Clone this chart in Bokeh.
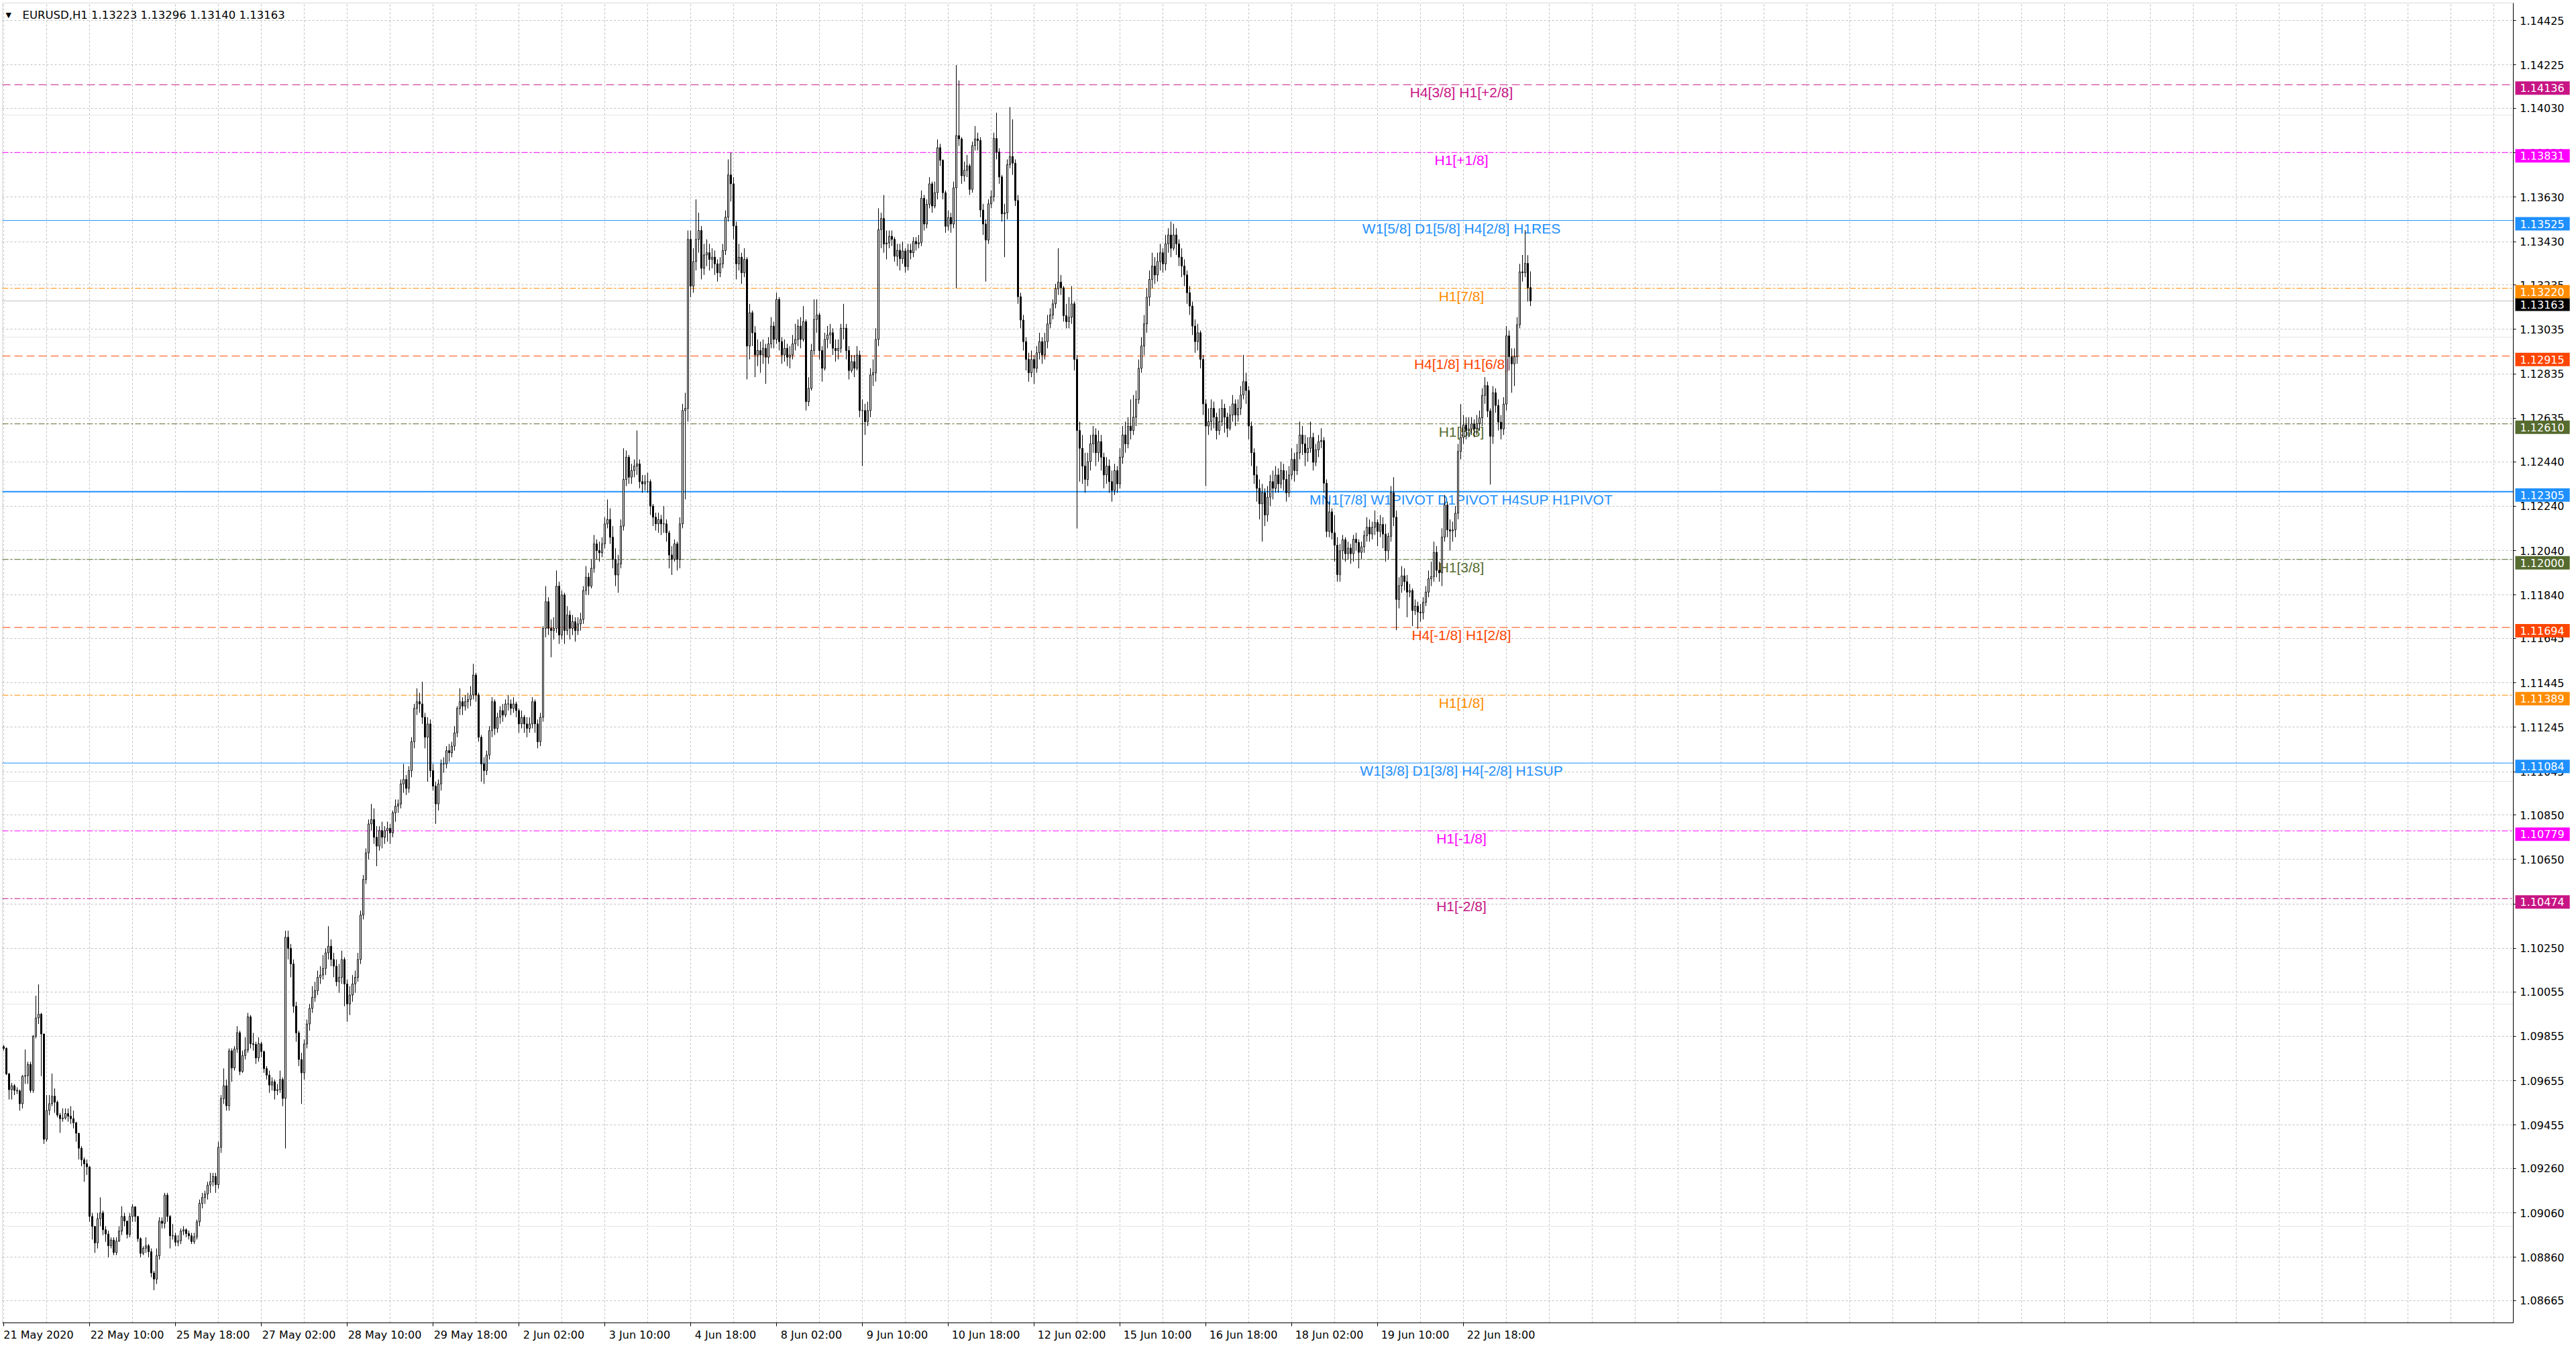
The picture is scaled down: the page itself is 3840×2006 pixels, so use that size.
import numpy as np
from bokeh.plotting import figure
from bokeh.models import (FixedTicker, Span, Label, Range1d, PrintfTickFormatter,
                          LinearAxis, Grid, BoxAnnotation)
from bokeh.embed import file_html
from bokeh.resources import INLINE

# ---------------- data ----------------
symbol = "EURUSD,H1"
first_open = 1.09808

close = [
1.09800,1.09685,1.09614,1.09632,1.09611,1.09609,1.09551,1.09675,1.09677,1.09728,
1.09611,1.09855,1.09937,1.09954,1.09865,1.09391,1.09521,1.09551,1.09585,1.09558,
1.09500,1.09484,1.09487,1.09507,1.09495,1.09484,1.09465,1.09418,1.09351,1.09299,
1.09281,1.09267,1.09044,1.08999,1.08925,1.09034,1.09060,1.08984,1.08965,1.08912,
1.08938,1.08882,1.08933,1.08978,1.09044,1.09023,1.08963,1.09044,1.09087,1.09044,
1.08944,1.08878,1.08901,1.08912,1.08885,1.08790,1.08762,1.08867,1.09023,1.09013,
1.09140,1.09044,1.08957,1.08957,1.08928,1.08935,1.08978,1.08984,1.08967,1.08957,
1.08931,1.08952,1.09020,1.09103,1.09129,1.09145,1.09185,1.09200,1.09224,1.09187,
1.09355,1.09574,1.09632,1.09542,1.09789,1.09712,1.09797,1.09871,1.09696,1.09768,
1.09793,1.09942,1.09821,1.09818,1.09757,1.09821,1.09786,1.09709,1.09680,1.09635,
1.09650,1.09610,1.09615,1.09660,1.09575,1.10300,1.10250,1.10180,1.09990,1.09870,
1.09750,1.09690,1.09820,1.09910,1.09980,1.10030,1.10060,1.10120,1.10130,1.10160,
1.10230,1.10260,1.10200,1.10170,1.10100,1.10120,1.10200,1.10090,1.10000,1.10040,
1.10090,1.10120,1.10200,1.10400,1.10560,1.10680,1.10810,1.10830,1.10750,1.10710,
1.10780,1.10750,1.10780,1.10790,1.10770,1.10860,1.10890,1.10900,1.10990,1.11010,
1.10970,1.11050,1.11180,1.11330,1.11360,1.11350,1.11290,1.11200,1.11260,1.11050,
1.10980,1.10900,1.10990,1.11080,1.11080,1.11140,1.11130,1.11160,1.11220,1.11330,
1.11360,1.11340,1.11360,1.11370,1.11390,1.11480,1.11390,1.11200,1.11080,1.11050,
1.11120,1.11230,1.11360,1.11240,1.11290,1.11320,1.11300,1.11350,1.11350,1.11330,
1.11350,1.11320,1.11260,1.11290,1.11260,1.11240,1.11260,1.11360,1.11260,1.11180,
1.11290,1.11690,1.11810,1.11690,1.11680,1.11690,1.11880,1.11660,1.11840,1.11680,
1.11750,1.11690,1.11720,1.11680,1.11710,1.11730,1.11860,1.11920,1.11880,1.11960,
1.12070,1.12040,1.12030,1.12070,1.12160,1.12180,1.12100,1.12000,1.11930,1.11980,
1.12150,1.12360,1.12460,1.12370,1.12400,1.12420,1.12430,1.12350,1.12340,1.12350,
1.12350,1.12240,1.12190,1.12160,1.12180,1.12160,1.12160,1.12120,1.12020,1.12000,
1.12070,1.12000,1.12160,1.12670,1.12680,1.13440,1.13230,1.13340,1.13440,1.13480,
1.13310,1.13370,1.13380,1.13350,1.13360,1.13330,1.13290,1.13330,1.13390,1.13540,
1.13730,1.13690,1.13500,1.13330,1.13360,1.13290,1.13350,1.12960,1.13110,1.13020,
1.12920,1.12940,1.12920,1.12950,1.12910,1.12970,1.13050,1.12990,1.13170,1.12980,
1.12920,1.12950,1.12910,1.12920,1.12970,1.12990,1.13050,1.12990,1.13070,1.12710,
1.12770,1.12940,1.13080,1.13100,1.12940,1.12860,1.12990,1.13010,1.13020,1.12950,
1.12940,1.12950,1.13040,1.13040,1.12940,1.12850,1.12890,1.12860,1.12920,1.12670,
1.12670,1.12620,1.12670,1.12830,1.12840,1.12990,1.13484,1.13534,1.13419,1.13424,
1.13454,1.13440,1.13364,1.13391,1.13353,1.13388,1.13318,1.13391,1.13380,1.13431,
1.13420,1.13425,1.13625,1.13509,1.13598,1.13690,1.13590,1.13650,1.13853,1.13796,
1.13650,1.13499,1.13539,1.13509,1.13672,1.13907,1.13892,1.13726,1.13751,1.13771,
1.13665,1.13862,1.13892,1.13885,1.13572,1.13509,1.13437,1.13600,1.13632,1.13894,
1.13833,1.13721,1.13555,1.13560,1.13776,1.13813,1.13783,1.13615,1.13182,1.13077,
1.12980,1.12900,1.12840,1.12900,1.12860,1.12930,1.12980,1.12920,1.12980,1.13060,
1.13100,1.13150,1.13218,1.13248,1.13222,1.13097,1.13070,1.13090,1.13150,1.12900,
1.12580,1.12500,1.12420,1.12360,1.12440,1.12520,1.12560,1.12480,1.12530,1.12460,
1.12380,1.12420,1.12350,1.12310,1.12400,1.12340,1.12460,1.12560,1.12520,1.12600,
1.12580,1.12640,1.12720,1.12860,1.12960,1.13060,1.13180,1.13260,1.13320,1.13280,
1.13340,1.13380,1.13330,1.13420,1.13460,1.13400,1.13460,1.13420,1.13360,1.13320,
1.13280,1.13200,1.13140,1.13050,1.12980,1.13020,1.12900,1.12700,1.12600,1.12620,
1.12680,1.12640,1.12580,1.12620,1.12680,1.12640,1.12590,1.12650,1.12700,1.12650,
1.12680,1.12740,1.12800,1.12760,1.12600,1.12480,1.12380,1.12320,1.12250,1.12300,
1.12200,1.12280,1.12350,1.12320,1.12380,1.12340,1.12400,1.12360,1.12300,1.12380,
1.12450,1.12400,1.12480,1.12560,1.12520,1.12480,1.12500,1.12549,1.12437,1.12493,
1.12530,1.12535,1.12343,1.12126,1.12214,1.12120,1.12064,1.11932,1.12039,1.12089,
1.12026,1.12051,1.12026,1.12091,1.12076,1.12032,1.12057,1.12107,1.12145,1.12114,
1.12145,1.12166,1.12126,1.12158,1.12114,1.12039,1.12104,1.12300,1.12190,1.11820,
1.11882,1.11926,1.11900,1.11853,1.11860,1.11770,1.11790,1.11763,1.11760,1.11807,
1.11853,1.11913,1.11923,1.12032,1.11951,1.11940,1.12101,1.12245,1.12133,1.12128,
1.12133,1.12208,1.12486,1.12549,1.12605,1.12580,1.12587,1.12610,1.12587,1.12612,
1.12637,1.12738,1.12782,1.12668,1.12554,1.12750,1.12693,1.12618,1.12587,1.12699,
1.13006,1.12912,1.12880,1.12912,1.13056,1.13294,1.13290,1.13332,1.13223,1.13163,
]

high = [
1.09815,1.09805,1.09690,1.09645,1.09640,1.09625,1.09615,1.09680,1.09795,1.09740,
1.09740,1.09860,1.10037,1.10088,1.09960,1.09865,1.09590,1.09590,1.09687,1.09620,
1.09565,1.09510,1.09530,1.09530,1.09530,1.09540,1.09520,1.09470,1.09420,1.09360,
1.09310,1.09300,1.09270,1.09060,1.09000,1.09060,1.09130,1.09070,1.09000,1.08980,
1.08950,1.08950,1.08950,1.09000,1.09090,1.09060,1.09010,1.09060,1.09100,1.09090,
1.09040,1.08950,1.08910,1.08950,1.08920,1.08900,1.08800,1.08900,1.09040,1.09040,
1.09150,1.09150,1.09050,1.09010,1.08970,1.08960,1.08990,1.09000,1.08990,1.08980,
1.08970,1.08970,1.09030,1.09120,1.09150,1.09160,1.09200,1.09240,1.09240,1.09240,
1.09380,1.09590,1.09710,1.09660,1.09800,1.09800,1.09810,1.09900,1.09880,1.09790,
1.09850,1.09960,1.09950,1.09870,1.09830,1.09850,1.09830,1.09790,1.09720,1.09700,
1.09670,1.09660,1.09640,1.09700,1.09670,1.10330,1.10330,1.10270,1.10200,1.10010,
1.09880,1.09780,1.09840,1.09930,1.10000,1.10080,1.10100,1.10150,1.10170,1.10220,
1.10250,1.10350,1.10290,1.10230,1.10200,1.10180,1.10240,1.10210,1.10110,1.10080,
1.10130,1.10150,1.10230,1.10420,1.10580,1.10700,1.10830,1.10900,1.10880,1.10800,
1.10800,1.10820,1.10800,1.10820,1.10810,1.10870,1.10920,1.10920,1.11010,1.11080,
1.11030,1.11070,1.11200,1.11350,1.11420,1.11400,1.11450,1.11310,1.11290,1.11280,
1.11080,1.11000,1.11010,1.11100,1.11110,1.11160,1.11170,1.11180,1.11250,1.11340,
1.11420,1.11380,1.11390,1.11400,1.11430,1.11530,1.11490,1.11400,1.11210,1.11110,
1.11140,1.11250,1.11380,1.11370,1.11310,1.11340,1.11350,1.11370,1.11390,1.11370,
1.11380,1.11360,1.11330,1.11320,1.11300,1.11290,1.11290,1.11380,1.11370,1.11280,
1.11310,1.11700,1.11880,1.11830,1.11730,1.11740,1.11950,1.11900,1.11860,1.11850,
1.11790,1.11770,1.11750,1.11740,1.11740,1.11760,1.11880,1.11970,1.11940,1.12000,
1.12110,1.12090,1.12080,1.12100,1.12190,1.12270,1.12230,1.12150,1.12050,1.12020,
1.12180,1.12500,1.12490,1.12470,1.12430,1.12450,1.12580,1.12450,1.12380,1.12380,
1.12390,1.12360,1.12250,1.12210,1.12210,1.12200,1.12240,1.12180,1.12130,1.12060,
1.12090,1.12080,1.12190,1.12700,1.12750,1.13480,1.13480,1.13400,1.13620,1.13560,
1.13500,1.13420,1.13440,1.13420,1.13400,1.13390,1.13350,1.13360,1.13420,1.13570,
1.13800,1.13830,1.13720,1.13520,1.13420,1.13380,1.13400,1.13360,1.13150,1.13120,
1.13050,1.12990,1.12980,1.12990,1.12970,1.13000,1.13090,1.13070,1.13200,1.13180,
1.13000,1.12990,1.12970,1.12960,1.13010,1.13060,1.13080,1.13090,1.13140,1.13080,
1.12820,1.12970,1.13170,1.13170,1.13110,1.12960,1.13020,1.13050,1.13060,1.13040,
1.12990,1.12990,1.13060,1.13150,1.13060,1.12960,1.12920,1.12920,1.12960,1.12940,
1.12720,1.12700,1.12710,1.12860,1.12900,1.13040,1.13580,1.13560,1.13640,1.13480,
1.13480,1.13480,1.13450,1.13420,1.13420,1.13430,1.13400,1.13420,1.13420,1.13450,
1.13450,1.13460,1.13660,1.13640,1.13620,1.13720,1.13700,1.13700,1.13890,1.13870,
1.13800,1.13660,1.13570,1.13560,1.13700,1.14224,1.14155,1.13900,1.13790,1.13820,
1.13780,1.13880,1.13950,1.13920,1.13900,1.13600,1.13530,1.13620,1.13660,1.13920,
1.14010,1.13850,1.13730,1.13600,1.13800,1.14035,1.13980,1.13800,1.13640,1.13200,
1.13100,1.13000,1.12930,1.12940,1.12920,1.12960,1.13020,1.13000,1.13020,1.13100,
1.13130,1.13170,1.13240,1.13400,1.13280,1.13230,1.13150,1.13180,1.13230,1.13160,
1.12920,1.12620,1.12560,1.12480,1.12480,1.12560,1.12600,1.12590,1.12580,1.12560,
1.12480,1.12460,1.12450,1.12400,1.12430,1.12420,1.12500,1.12600,1.12620,1.12640,
1.12720,1.12740,1.12760,1.12900,1.13000,1.13100,1.13220,1.13300,1.13380,1.13360,
1.13380,1.13420,1.13400,1.13460,1.13490,1.13520,1.13510,1.13490,1.13440,1.13400,
1.13350,1.13300,1.13230,1.13160,1.13080,1.13060,1.13030,1.12920,1.12720,1.12680,
1.12720,1.12710,1.12660,1.12680,1.12720,1.12700,1.12660,1.12690,1.12740,1.12720,
1.12720,1.12780,1.12920,1.12840,1.12780,1.12620,1.12500,1.12420,1.12360,1.12340,
1.12320,1.12330,1.12380,1.12400,1.12420,1.12410,1.12440,1.12430,1.12400,1.12420,
1.12500,1.12480,1.12520,1.12620,1.12600,1.12560,1.12550,1.12620,1.12570,1.12520,
1.12560,1.12590,1.12550,1.12360,1.12260,1.12230,1.12200,1.12100,1.12070,1.12110,
1.12100,1.12080,1.12070,1.12110,1.12120,1.12090,1.12080,1.12130,1.12190,1.12180,
1.12170,1.12220,1.12180,1.12200,1.12190,1.12160,1.12120,1.12330,1.12370,1.12220,
1.11920,1.11970,1.11960,1.11930,1.11890,1.11870,1.11820,1.11810,1.11800,1.11830,
1.11880,1.11950,1.11990,1.12080,1.12060,1.11990,1.12140,1.12290,1.12260,1.12180,
1.12170,1.12240,1.12520,1.12699,1.12650,1.12640,1.12640,1.12640,1.12630,1.12650,
1.12670,1.12770,1.12820,1.12800,1.12680,1.12780,1.12770,1.12720,1.12650,1.12730,
1.13050,1.13030,1.12950,1.12950,1.13090,1.13330,1.13370,1.13482,1.13369,1.13296,
]

low = [
1.09790,1.09680,1.09570,1.09570,1.09590,1.09595,1.09520,1.09530,1.09640,1.09640,
1.09600,1.09600,1.09845,1.09910,1.09675,1.09370,1.09380,1.09500,1.09540,1.09510,
1.09490,1.09420,1.09470,1.09480,1.09470,1.09460,1.09440,1.09380,1.09300,1.09270,
1.09200,1.09230,1.09020,1.08940,1.08880,1.08900,1.09000,1.08960,1.08930,1.08860,
1.08900,1.08870,1.08870,1.08930,1.08960,1.09000,1.08945,1.08950,1.09020,1.09020,
1.08930,1.08860,1.08870,1.08880,1.08860,1.08770,1.08712,1.08740,1.08850,1.08990,
1.08990,1.09020,1.08900,1.08940,1.08910,1.08910,1.08920,1.08960,1.08950,1.08940,
1.08920,1.08920,1.08940,1.09000,1.09080,1.09100,1.09120,1.09150,1.09180,1.09150,
1.09170,1.09330,1.09550,1.09520,1.09520,1.09650,1.09700,1.09780,1.09680,1.09690,
1.09750,1.09780,1.09800,1.09790,1.09730,1.09740,1.09760,1.09690,1.09660,1.09600,
1.09610,1.09570,1.09590,1.09600,1.09540,1.09350,1.10200,1.10120,1.09960,1.09830,
1.09720,1.09550,1.09660,1.09800,1.09880,1.09960,1.10010,1.10040,1.10090,1.10110,
1.10130,1.10200,1.10170,1.10120,1.10080,1.10050,1.10090,1.09990,1.09920,1.09950,
1.10010,1.10050,1.10100,1.10180,1.10380,1.10540,1.10650,1.10780,1.10720,1.10620,
1.10690,1.10700,1.10720,1.10730,1.10720,1.10750,1.10820,1.10860,1.10880,1.10950,
1.10940,1.10950,1.11020,1.11150,1.11300,1.11310,1.11260,1.11150,1.11000,1.11020,
1.10960,1.10810,1.10870,1.10960,1.11040,1.11060,1.11090,1.11110,1.11140,1.11200,
1.11300,1.11300,1.11320,1.11330,1.11340,1.11370,1.11360,1.11180,1.11000,1.10990,
1.11030,1.11100,1.11200,1.11210,1.11220,1.11260,1.11270,1.11290,1.11320,1.11300,
1.11310,1.11290,1.11220,1.11240,1.11220,1.11200,1.11220,1.11240,1.11220,1.11150,
1.11160,1.11270,1.11650,1.11660,1.11560,1.11640,1.11670,1.11620,1.11640,1.11620,
1.11660,1.11640,1.11660,1.11630,1.11660,1.11680,1.11710,1.11840,1.11840,1.11870,
1.11940,1.12000,1.11990,1.12010,1.12050,1.12140,1.12070,1.11960,1.11880,1.11850,
1.11960,1.12130,1.12330,1.12340,1.12340,1.12370,1.12380,1.12320,1.12300,1.12310,
1.12300,1.12200,1.12150,1.12130,1.12120,1.12110,1.12120,1.12080,1.11960,1.11930,
1.11990,1.11950,1.11960,1.12140,1.12270,1.12620,1.13180,1.13200,1.13300,1.13380,
1.13260,1.13280,1.13320,1.13300,1.13310,1.13280,1.13250,1.13270,1.13310,1.13370,
1.13520,1.13610,1.13440,1.13260,1.13300,1.13240,1.13270,1.12810,1.12900,1.12960,
1.12820,1.12870,1.12840,1.12880,1.12790,1.12880,1.12950,1.12950,1.12970,1.12940,
1.12880,1.12890,1.12870,1.12860,1.12900,1.12940,1.12960,1.12950,1.12980,1.12670,
1.12690,1.12760,1.12920,1.13020,1.12900,1.12800,1.12850,1.12950,1.12970,1.12920,
1.12890,1.12900,1.12930,1.12990,1.12900,1.12810,1.12840,1.12820,1.12850,1.12640,
1.12420,1.12560,1.12600,1.12640,1.12780,1.12800,1.12960,1.13400,1.13380,1.13350,
1.13400,1.13410,1.13340,1.13320,1.13300,1.13330,1.13290,1.13300,1.13350,1.13360,
1.13390,1.13400,1.13410,1.13480,1.13490,1.13580,1.13560,1.13580,1.13620,1.13770,
1.13620,1.13470,1.13480,1.13470,1.13490,1.13220,1.13860,1.13690,1.13700,1.13720,
1.13640,1.13650,1.13840,1.13840,1.13540,1.13460,1.13250,1.13420,1.13580,1.13610,
1.13800,1.13690,1.13520,1.13360,1.13530,1.13760,1.13730,1.13590,1.13150,1.13040,
1.12940,1.12850,1.12800,1.12820,1.12790,1.12840,1.12900,1.12880,1.12900,1.12950,
1.13040,1.13080,1.13130,1.13190,1.13190,1.13070,1.13040,1.13040,1.13060,1.12850,
1.12140,1.12350,1.12340,1.12300,1.12330,1.12400,1.12480,1.12420,1.12440,1.12400,
1.12320,1.12340,1.12300,1.12260,1.12290,1.12300,1.12320,1.12430,1.12480,1.12500,
1.12540,1.12560,1.12600,1.12700,1.12840,1.12920,1.13020,1.13140,1.13220,1.13240,
1.13250,1.13300,1.13290,1.13300,1.13380,1.13360,1.13390,1.13370,1.13320,1.13270,
1.13230,1.13150,1.13100,1.13010,1.12930,1.12940,1.12860,1.12650,1.12330,1.12560,
1.12580,1.12590,1.12540,1.12560,1.12600,1.12570,1.12550,1.12580,1.12620,1.12600,
1.12620,1.12650,1.12720,1.12700,1.12540,1.12420,1.12340,1.12260,1.12180,1.12080,
1.12150,1.12170,1.12240,1.12270,1.12300,1.12300,1.12320,1.12310,1.12260,1.12280,
1.12360,1.12350,1.12380,1.12450,1.12470,1.12420,1.12440,1.12480,1.12400,1.12420,
1.12460,1.12500,1.12300,1.12100,1.12100,1.12090,1.11990,1.11900,1.11900,1.12000,
1.11990,1.12000,1.11980,1.11990,1.12040,1.11960,1.12000,1.12030,1.12080,1.12080,
1.12090,1.12110,1.12060,1.12100,1.12050,1.11990,1.12000,1.12080,1.12150,1.11682,
1.11780,1.11850,1.11860,1.11740,1.11830,1.11700,1.11750,1.11688,1.11720,1.11730,
1.11790,1.11830,1.11880,1.11900,1.11920,1.11900,1.11880,1.12080,1.12100,1.12040,
1.12080,1.12100,1.12180,1.12450,1.12520,1.12540,1.12550,1.12560,1.12550,1.12560,
1.12580,1.12600,1.12700,1.12640,1.12337,1.12520,1.12660,1.12580,1.12540,1.12560,
1.12670,1.12850,1.12750,1.12780,1.12880,1.13040,1.13250,1.13270,1.13160,1.13140,
]

date_tick_bars = [0, 32, 64, 96, 128, 160, 192, 224, 256, 288, 320, 352, 384, 416, 448, 480, 512, 544]
date_tick_labels = ["21 May 2020", "22 May 10:00", "25 May 18:00", "27 May 02:00", "28 May 10:00",
                    "29 May 18:00", "2 Jun 02:00", "3 Jun 10:00", "4 Jun 18:00", "8 Jun 02:00",
                    "9 Jun 10:00", "10 Jun 18:00", "12 Jun 02:00", "15 Jun 10:00", "16 Jun 18:00",
                    "18 Jun 02:00", "19 Jun 10:00", "22 Jun 18:00"]

price_ticks = [1.14425, 1.14225, 1.14030, 1.13830, 1.13630, 1.13430, 1.13235, 1.13035, 1.12835,
               1.12635, 1.12440, 1.12240, 1.12040, 1.11840, 1.11645, 1.11445, 1.11245, 1.11045,
               1.10850, 1.10650, 1.10450, 1.10250, 1.10055, 1.09855, 1.09655, 1.09455, 1.09260,
               1.09060, 1.08860, 1.08665]

level_prices = [1.14136, 1.13831, 1.13525, 1.13220, 1.12915, 1.12610, 1.12305,
                1.12000, 1.11694, 1.11389, 1.11084, 1.10779, 1.10474]
level_texts = ["H4[3/8] H1[+2/8]", "H1[+1/8]", "W1[5/8] D1[5/8] H4[2/8] H1RES", "H1[7/8]",
               "H4[1/8] H1[6/8]", "H1[5/8]", "MN1[7/8] W1PIVOT D1PIVOT H4SUP H1PIVOT",
               "H1[3/8]", "H4[-1/8] H1[2/8]", "H1[1/8]", "W1[3/8] D1[3/8] H4[-2/8] H1SUP",
               "H1[-1/8]", "H1[-2/8]"]

# ---------------- styles / layout ----------------
VIOLET, MAGENTA, BLUE, ORANGE, ORANGERED, OLIVE = "#C71585", "#FF00FF", "#1E90FF", "#FF8C00", "#FF4500", "#556B2F"
DASH, DASHDOT = "12 6", "9 3 3 3"
level_styles = [
    (VIOLET, DASH, 1), (MAGENTA, DASHDOT, 1), (BLUE, "solid", 1), (ORANGE, DASHDOT, 1),
    (ORANGERED, DASH, 1), (OLIVE, DASHDOT, 1), (BLUE, "solid", 2), (OLIVE, DASHDOT, 1),
    (ORANGERED, DASH, 1), (ORANGE, DASHDOT, 1), (BLUE, "solid", 1), (MAGENTA, DASHDOT, 1),
    (VIOLET, DASHDOT, 1),
]

PX_PER_UNIT = 33124.0
PX_PER_BAR = 4.0
FRAME_LEFT, FRAME_TOP = 3, 4
FRAME_W, FRAME_H = 3833, 1967
CHART_W = 3743                      # width of the candle area inside the frame
Y_END = 1.145035
Y_START = Y_END - FRAME_H / PX_PER_UNIT
X_START = -0.5
X_END = X_START + FRAME_W / PX_PER_BAR
X_EDGE = X_START + CHART_W / PX_PER_BAR   # right border of the chart / price axis line

AXIS_FONT = "DejaVu Sans"
LEVEL_FONT = "Liberation Sans"

# ---------------- candles ----------------
c = np.array(close)
o = np.array([first_open] + close[:-1])
h = np.maximum(np.array(high), np.maximum(o, c))
l = np.minimum(np.array(low), np.minimum(o, c))
idx = np.arange(len(c))
up = c >= o

p = figure(frame_width=FRAME_W, frame_height=FRAME_H,
           x_range=Range1d(X_START, X_END), y_range=Range1d(Y_START, Y_END),
           y_axis_location=None, output_backend="svg", toolbar_location=None,
           min_border_left=FRAME_LEFT, min_border_top=FRAME_TOP, min_border_bottom=0,
           min_border_right=0, background_fill_color="white", border_fill_color="white")
p.outline_line_color = None

# grids
p.xgrid.ticker = FixedTicker(ticks=list(range(0, int(X_EDGE), 16)))
ygrid = Grid(dimension=1, ticker=FixedTicker(ticks=price_ticks))
p.add_layout(ygrid)
for g in (p.xgrid[0], ygrid):
    g.grid_line_color = "#c0c0c0"
    g.grid_line_dash = "3 3"
    g.grid_line_width = 1

# level lines (behind candles)
for price, (col, dash, w) in zip(level_prices, level_styles):
    p.add_layout(Span(location=price, dimension="width", line_color=col,
                      line_dash=dash, line_width=w, level="underlay"))
# bid line
p.add_layout(Span(location=close[-1], dimension="width", line_color="#C0C0C0",
                  line_width=1, level="underlay"))

# blank price-scale area right of the chart
p.add_layout(BoxAnnotation(left=X_EDGE, fill_color="white", fill_alpha=1.0,
                           line_alpha=0, level="underlay"))
# chart border
p.add_layout(BoxAnnotation(left=X_START, right=X_EDGE, fill_alpha=0, line_color="black",
                           line_width=1, level="underlay"))

# level texts
LABEL_CENTER_PX = 2175
label_x = X_START + LABEL_CENTER_PX / PX_PER_BAR
for price, txt, (col, dash, w) in zip(level_prices, level_texts, level_styles):
    p.add_layout(Label(x=label_x, y=price, text=txt, text_color=col, text_font=LEVEL_FONT,
                       text_font_size="21px", text_align="center", text_baseline="top",
                       level="underlay"))

# candles
p.segment(idx, l, idx, h, line_color="black", line_width=1)
p.vbar(x=idx[up], bottom=o[up], top=c[up], width=0.5, fill_color="white",
       line_color="black", line_width=1)
p.vbar(x=idx[~up], bottom=c[~up], top=o[~up], width=0.5, fill_color="black",
       line_color="black", line_width=1)

# x axis
label_centers = [int(round(b + len(t) * 8.9 / 2 / PX_PER_BAR)) + 1
                 for b, t in zip(date_tick_bars, date_tick_labels)]
xax = p.xaxis[0]
xax.ticker = FixedTicker(ticks=label_centers, minor_ticks=date_tick_bars)
xax.major_label_overrides = {k: t for k, t in zip(label_centers, date_tick_labels)}
xax.bounds = (X_START, X_EDGE)
xax.major_tick_out = 0
xax.major_tick_in = 0
xax.minor_tick_out = 5
xax.minor_tick_in = 0
xax.major_label_standoff = 3

# price axis drawn at the right border of the chart, labels to its right
yax = LinearAxis(fixed_location=X_EDGE, ticker=FixedTicker(ticks=price_ticks),
                 formatter=PrintfTickFormatter(format="%.5f"))
yax.major_tick_out = 0
yax.minor_tick_out = 0
yax.major_tick_in = 4
yax.minor_tick_in = 0
yax.major_label_standoff = -76
p.add_layout(yax, "left")

for ax in (xax, yax):
    ax.major_label_text_font = AXIS_FONT
    ax.major_label_text_font_size = "16px"
    ax.major_label_text_color = "black"
    ax.axis_line_color = "black"
    ax.major_tick_line_color = "black"
    ax.minor_tick_line_color = "black"

# price boxes on the price scale
def price_box(price, color):
    p.add_layout(Label(x=X_EDGE, y=price, x_offset=3, y_offset=-5, text=f"{price:.5f}",
                       text_color="white", text_font=AXIS_FONT, text_font_size="16px",
                       text_align="left", text_baseline="middle",
                       background_fill_color=color, background_fill_alpha=1.0,
                       padding=dict(left=7, right=8, top=4, bottom=4)))

price_box(close[-1], "black")
for price, (col, dash, w) in zip(level_prices, level_styles):
    price_box(price, col)

# title
title_text = f"{symbol}  {o[-1]:.5f} {h[-1]:.5f} {l[-1]:.5f} {c[-1]:.5f}"
p.add_layout(Label(x=X_START, y=Y_END, x_offset=5, y_offset=-18, text="\u25BC",
                   text_font=AXIS_FONT, text_font_size="11px", text_color="black",
                   text_baseline="middle", text_align="left"))
p.add_layout(Label(x=X_START, y=Y_END, x_offset=30, y_offset=-18, text=title_text,
                   text_font=AXIS_FONT, text_font_size="16.5px", text_color="black",
                   text_baseline="middle", text_align="left"))

open("out.html", "w").write(file_html(p, INLINE))
